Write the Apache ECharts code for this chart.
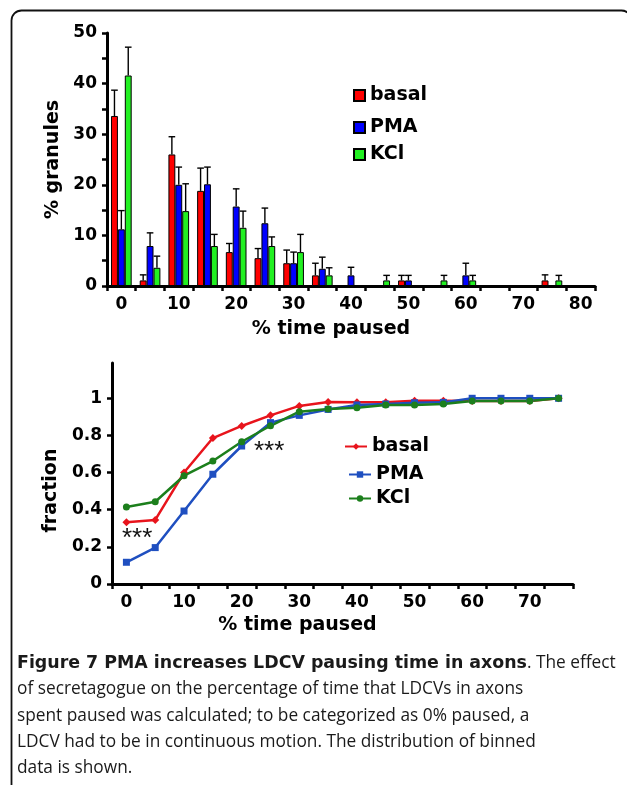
<!DOCTYPE html>
<html><head><meta charset="utf-8">
<script src="https://cdn.jsdelivr.net/npm/echarts@6/dist/echarts.min.js"></script>
<style>html,body{margin:0;padding:0;background:#fff;}#c{width:627px;height:785px;}</style>
</head><body><div id="c"></div>
<script>
// ---- Top chart: % granules by % time paused (bins of 5%) ----
const topCats = ['0','5','10','15','20','25','30','35','40','45','50','55','60','65','70','75','80'];
const basalPct = [33.6, 1.1, 26.0, 18.8, 6.7, 5.5, 4.5, 2.1, 0, 0, 1.1, 0, 0, 0, 0, 1.1, 0];
const basalErr = [5.1, 1.1, 3.5, 4.5, 1.7, 1.9, 2.6, 2.4, 0, 0, 1.0, 0, 0, 0, 0, 1.1, 0];
const pmaPct   = [11.2, 7.9, 20.0, 20.1, 15.7, 12.4, 4.5, 3.4, 2.1, 0, 1.1, 0, 2.1, 0, 0, 0, 0];
const pmaErr   = [3.7, 2.6, 3.5, 3.4, 3.5, 3.0, 2.2, 2.3, 1.6, 0, 1.0, 0, 2.4, 0, 0, 0, 0];
const kclPct   = [41.6, 3.6, 14.8, 7.9, 11.5, 7.9, 6.7, 2.1, 0, 1.1, 0, 1.1, 1.1, 0, 0, 1.1, 0];
const kclErr   = [5.6, 2.3, 5.4, 2.3, 3.3, 1.8, 3.5, 1.5, 0, 1.0, 0, 1.0, 1.0, 0, 0, 1.0, 0];

// ---- Bottom chart: cumulative fraction ----
const botCats = ['0','5','10','15','20','25','30','35','40','45','50','55','60','65','70','75'];
const basalCum = [0.332, 0.345, 0.600, 0.786, 0.851, 0.908, 0.959, 0.980, 0.978, 0.978, 0.987, 0.987, 0.985, 0.985, 0.985, 1.0];
const pmaCum   = [0.117, 0.196, 0.393, 0.591, 0.743, 0.869, 0.908, 0.940, 0.964, 0.969, 0.976, 0.978, 1.0, 1.0, 1.0, 1.0];
const kclCum   = [0.415, 0.443, 0.583, 0.662, 0.766, 0.852, 0.928, 0.942, 0.949, 0.964, 0.964, 0.969, 0.985, 0.985, 0.985, 1.0];
const fracTicks = [0, 0.2, 0.4, 0.6, 0.8, 1];

const captionBold = 'Figure 7 PMA increases LDCV pausing time in axons';
const captionLines = [
  '. The effect',
  'of secretagogue on the percentage of time that LDCVs in axons',
  'spent paused was calculated; to be categorized as 0% paused, a',
  'LDCV had to be in continuous motion. The distribution of binned',
  'data is shown.'
];

const C_RED = '#ff0000', C_BLUE = '#0000ff', C_GREEN = '#22f022';
const L_RED = '#e8141c', L_BLUE = '#1f4fc0', L_GREEN = '#1c7f1c';
const BOLD = 'DejaVu Sans';
const GAP = 0.28;

function errSeries(vals, errs, k) {
  return {
    type: 'custom', xAxisIndex: 0, yAxisIndex: 0, z: 5, silent: true,
    data: vals.map((v, i) => [i, v, errs[i]]),
    encode: {x: 0, y: 1},
    renderItem: function (params, api) {
      const e = api.value(2);
      if (!e) return null;
      const cat = api.value(0), v = api.value(1);
      const band = api.size([1, 0])[0];
      const bw = band * (1 - GAP) / 3;
      const p = api.coord([cat, v]);
      const pt = api.coord([cat, v + e]);
      const x = p[0] + (k - 1) * bw;
      const cap = bw * 0.48;
      const st = {stroke: '#000', lineWidth: 1.4};
      return {type: 'group', children: [
        {type: 'line', shape: {x1: x, y1: p[1], x2: x, y2: pt[1]}, style: st},
        {type: 'line', shape: {x1: x - cap, y1: pt[1], x2: x + cap, y2: pt[1]}, style: st}
      ]};
    }
  };
}

const axisLine = {lineStyle: {color: '#000', width: 3}};
const axisTick = {show: true, length: 5, lineStyle: {color: '#000', width: 2.5}};
const lbl = {color: '#000', fontFamily: BOLD, fontWeight: 'bold', fontSize: 17};
const nameStyle = {color: '#000', fontFamily: BOLD, fontWeight: 'bold', fontSize: 19};

const legendText = {color: '#000', fontFamily: BOLD, fontWeight: 'bold', fontSize: 19};
function topLegend(name, top) {
  return {data: [name], left: 353, top: top, padding: 0, itemWidth: 11, itemHeight: 11,
    icon: 'rect', selectedMode: false, textStyle: legendText, itemGap: 0};
}
function botLegend(name, left, top) {
  return {data: [name], left: left, top: top, padding: 0, itemWidth: 22, itemHeight: 8,
    selectedMode: false, textStyle: legendText, formatter: n => n.replace('-cdf', '')};
}

const chart = echarts.init(document.getElementById('c'), null, {renderer: 'canvas'});
chart.setOption({
  animation: false,
  backgroundColor: '#fff',
  title: {
    left: 17, top: 650, padding: 0,
    text: '{b|' + captionBold + '}{n|' + captionLines[0] + '}\n' +
      captionLines.slice(1).map(s => '{n|' + s + '}').join('\n'),
    textStyle: {rich: {
      b: {fontFamily: 'DejaVu Sans', fontWeight: 'bold', fontSize: 17.4, lineHeight: 26.3, color: '#1a1a1a'},
      n: {fontFamily: 'Open Sans', fontWeight: 'normal', fontSize: 17.3, lineHeight: 26.3, color: '#1a1a1a'}
    }}
  },
  legend: [
    topLegend('basal', 86),
    topLegend('PMA', 118),
    topLegend('KCl', 145),
    botLegend('basal-cdf', 344, 437),
    botLegend('PMA-cdf', 348, 465),
    botLegend('KCl-cdf', 348, 489)
  ],
  grid: [
    {left: 107, top: 33, width: 488, height: 253},
    {left: 112, top: 363, width: 461, height: 221}
  ],
  xAxis: [
    {type: 'category', gridIndex: 0, data: topCats, boundaryGap: true,
     axisLine: axisLine, axisTick: Object.assign({interval: 0}, axisTick),
     axisLabel: Object.assign({interval: 1, margin: 10}, lbl),
     name: '% time paused', nameLocation: 'middle', nameGap: 34,
     nameTextStyle: Object.assign({padding: [0, 40, 0, 0]}, nameStyle),
     splitLine: {show: false}},
    {type: 'category', gridIndex: 1, data: botCats, boundaryGap: true,
     axisLine: axisLine, axisTick: Object.assign({interval: 0}, axisTick),
     axisLabel: Object.assign({interval: 1, margin: 10}, lbl),
     name: '% time paused', nameLocation: 'middle', nameGap: 32,
     nameTextStyle: Object.assign({padding: [0, 90, 0, 0]}, nameStyle),
     splitLine: {show: false}}
  ],
  yAxis: [
    {type: 'value', gridIndex: 0, min: 0, max: 50, interval: 10,
     axisLine: Object.assign({show: true}, axisLine), axisTick: axisTick,
     minorTick: {show: true, splitNumber: 2, length: 5, lineStyle: {color: '#000', width: 2.5}},
     axisLabel: Object.assign({margin: 10}, lbl), splitLine: {show: false},
     name: '% granules', nameLocation: 'middle', nameGap: 29, nameRotate: 90, nameTextStyle: nameStyle},
    {type: 'value', gridIndex: 1, min: 0, max: 1.19, interval: 0.2,
     axisLine: Object.assign({show: true}, axisLine),
     axisTick: Object.assign({customValues: fracTicks}, axisTick),
     axisLabel: Object.assign({margin: 10, customValues: fracTicks}, lbl),
     splitLine: {show: false},
     name: 'fraction', nameLocation: 'middle', nameGap: 44, nameRotate: 90,
     nameTextStyle: Object.assign({padding: [0, 34, 0, 0]}, nameStyle)}
  ],
  series: [
    {name: 'basal', type: 'bar', xAxisIndex: 0, yAxisIndex: 0, data: basalPct, barGap: '0%', barCategoryGap: '28%',
     itemStyle: {color: C_RED, borderColor: '#000', borderWidth: 1}},
    {name: 'PMA', type: 'bar', xAxisIndex: 0, yAxisIndex: 0, data: pmaPct, barGap: '0%', barCategoryGap: '28%',
     itemStyle: {color: C_BLUE, borderColor: '#000', borderWidth: 1}},
    {name: 'KCl', type: 'bar', xAxisIndex: 0, yAxisIndex: 0, data: kclPct, barGap: '0%', barCategoryGap: '28%',
     itemStyle: {color: C_GREEN, borderColor: '#000', borderWidth: 1}},
    errSeries(basalPct, basalErr, 0),
    errSeries(pmaPct, pmaErr, 1),
    errSeries(kclPct, kclErr, 2),
    {name: 'basal-cdf', type: 'line', xAxisIndex: 1, yAxisIndex: 1, data: basalCum,
     symbol: 'diamond', symbolSize: 8, lineStyle: {color: L_RED, width: 2.5}, itemStyle: {color: L_RED}},
    {name: 'PMA-cdf', type: 'line', xAxisIndex: 1, yAxisIndex: 1, data: pmaCum,
     symbol: 'rect', symbolSize: 7, lineStyle: {color: L_BLUE, width: 2.5}, itemStyle: {color: L_BLUE}},
    {name: 'KCl-cdf', type: 'line', xAxisIndex: 1, yAxisIndex: 1, data: kclCum,
     symbol: 'circle', symbolSize: 7, lineStyle: {color: L_GREEN, width: 2.5}, itemStyle: {color: L_GREEN}}
  ],
  graphic: [
    {type: 'rect', left: 9, top: 8, z: 100, silent: true,
     shape: {x: 0, y: 0, width: 620, height: 800, r: 10},
     style: {fill: 'none', stroke: '#111', lineWidth: 1.8}},
    {type: 'text', left: 122, top: 526, z: 100, style: {text: '***', fontFamily: 'Liberation Sans', fontSize: 26, fill: '#111'}},
    {type: 'text', left: 254, top: 439, z: 100, style: {text: '***', fontFamily: 'Liberation Sans', fontSize: 26, fill: '#111'}}
  ]
});
</script></body></html>
